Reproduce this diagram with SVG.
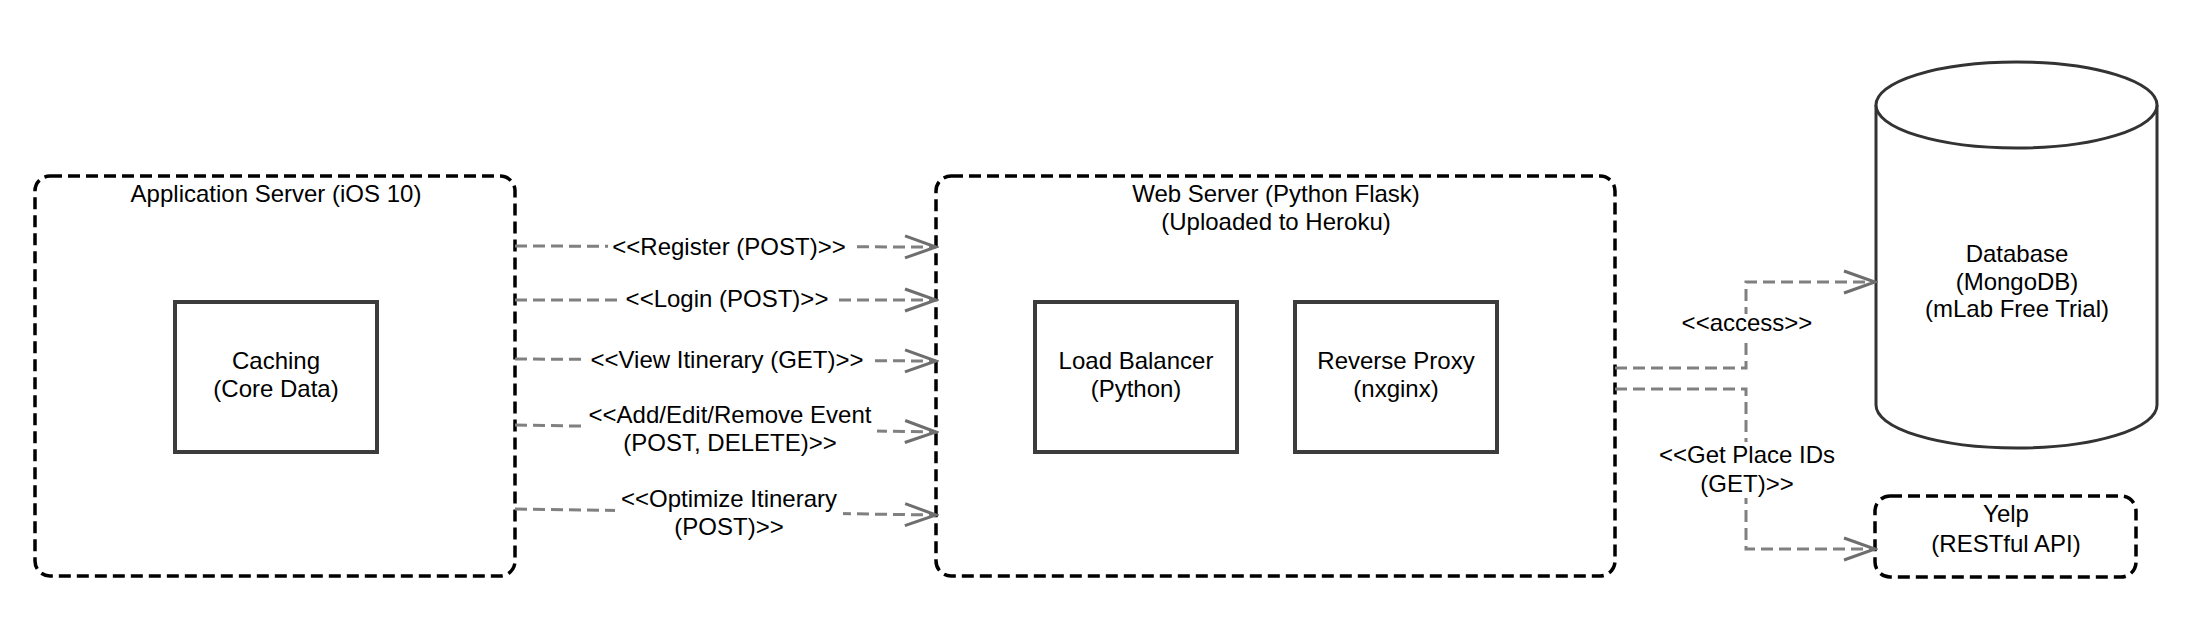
<svg xmlns="http://www.w3.org/2000/svg" width="2190" height="642" viewBox="0 0 2190 642">
<style>
  text { font-family: "Liberation Sans", Arial, sans-serif; font-size: 24px; fill: #000; text-anchor: middle; }
  .container { fill: #fff; stroke: #000; stroke-width: 3.5; stroke-dasharray: 12 6; }
  .comp { fill: #fff; stroke: #3c3c3c; stroke-width: 4; }
  .db { fill: #fff; stroke: #333; stroke-width: 3; }
  .conn { fill: none; stroke: #808080; stroke-width: 3; stroke-dasharray: 12 6; }
  .knock { fill: #fff; stroke: none; }
</style>
<defs>
  <marker id="open" markerUnits="userSpaceOnUse" markerWidth="36" markerHeight="26" viewBox="0 0 36 26" refX="33" refY="13" orient="auto">
    <path d="M2,2 L33,13 L2,24" fill="none" stroke="#6e6e6e" stroke-width="3"/>
  </marker>
</defs>
<rect width="2190" height="642" fill="#fff"/>

<g id="app-server">
  <rect class="container" x="35" y="176" width="480" height="400" rx="15" ry="15"/>
  <text x="276" y="202">Application Server (iOS 10)</text>
</g>
<g id="caching">
  <rect class="comp" x="175" y="302" width="202" height="150"/>
  <text x="276" y="369">Caching</text>
  <text x="276" y="397">(Core Data)</text>
</g>

<g id="web-server">
  <rect class="container" x="936" y="176" width="679" height="400" rx="15" ry="15"/>
  <text x="1276" y="202">Web Server (Python Flask)</text>
  <text x="1276" y="230">(Uploaded to Heroku)</text>
</g>
<g id="load-balancer">
  <rect class="comp" x="1035" y="302" width="202" height="150"/>
  <text x="1136" y="369">Load Balancer</text>
  <text x="1136" y="397">(Python)</text>
</g>
<g id="reverse-proxy">
  <rect class="comp" x="1295" y="302" width="202" height="150"/>
  <text x="1396" y="369">Reverse Proxy</text>
  <text x="1396" y="397">(nxginx)</text>
</g>

<g id="database">
  <path class="db" d="M1876,105 A140.5,43 0 0 1 2157,105 L2157,405 A140.5,43 0 0 1 1876,405 Z"/>
  <path class="db" fill="none" d="M1876,105 A140.5,43 0 0 0 2157,105"/>
  <text x="2017" y="262">Database</text>
  <text x="2017" y="290">(MongoDB)</text>
  <text x="2017" y="317">(mLab Free Trial)</text>
</g>

<g id="yelp">
  <rect class="container" x="1875" y="496" width="261" height="81" rx="15" ry="15"/>
  <text x="2006" y="522">Yelp</text>
  <text x="2006" y="552">(RESTful API)</text>
</g>

<g id="connectors">
  <path class="conn" d="M515,246 L936,247" marker-end="url(#open)"/>
  <path class="conn" d="M515,300 L936,300" marker-end="url(#open)"/>
  <path class="conn" d="M515,359 L936,361" marker-end="url(#open)"/>
  <path class="conn" d="M515,425 L936,432" marker-end="url(#open)"/>
  <path class="conn" d="M515,509 L936,515" marker-end="url(#open)"/>
  <path class="conn" d="M1615,368 L1746,368 L1746,282 L1875,282" marker-end="url(#open)"/>
  <path class="conn" d="M1615,389 L1746,389 L1746,549 L1875,549" marker-end="url(#open)"/>

  <rect class="knock" x="608" y="233" width="243" height="28"/>
  <text x="729" y="255">&lt;&lt;Register (POST)&gt;&gt;</text>

  <rect class="knock" x="621" y="285" width="212" height="28"/>
  <text x="727" y="307">&lt;&lt;Login (POST)&gt;&gt;</text>

  <rect class="knock" x="584" y="346" width="288" height="28"/>
  <text x="727" y="368">&lt;&lt;View Itinerary (GET)&gt;&gt;</text>

  <rect class="knock" x="584" y="402" width="293" height="56"/>
  <text x="730" y="423">&lt;&lt;Add/Edit/Remove Event</text>
  <text x="730" y="451">(POST, DELETE)&gt;&gt;</text>

  <rect class="knock" x="615" y="486" width="228" height="56"/>
  <text x="729" y="507">&lt;&lt;Optimize Itinerary</text>
  <text x="729" y="535">(POST)&gt;&gt;</text>

  <rect class="knock" x="1680" y="314" width="135" height="24"/>
  <text x="1747" y="331">&lt;&lt;access&gt;&gt;</text>

  <rect class="knock" x="1658" y="442" width="180" height="56"/>
  <text x="1747" y="463">&lt;&lt;Get Place IDs</text>
  <text x="1747" y="492">(GET)&gt;&gt;</text>
</g>
</svg>
